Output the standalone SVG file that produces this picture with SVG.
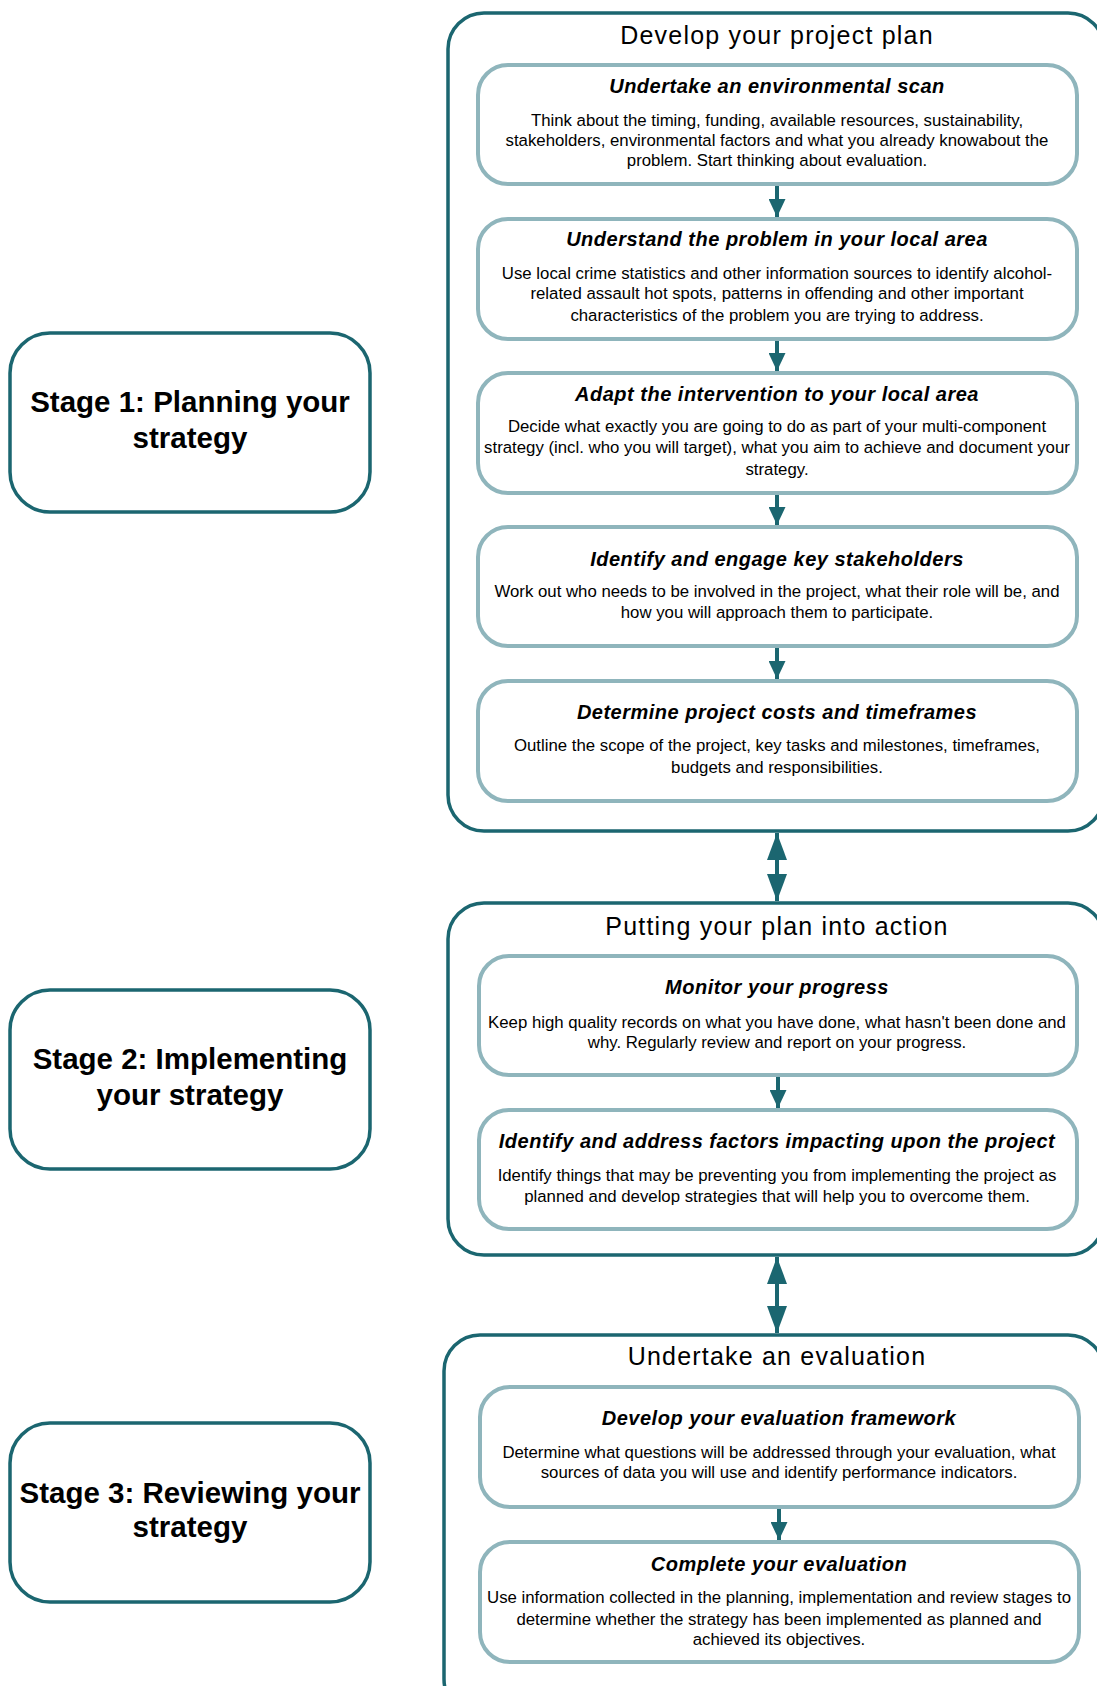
<svg xmlns="http://www.w3.org/2000/svg" width="1097" height="1686" viewBox="0 0 1097 1686">
<style>
.bg{fill:#ffffff}
.stage{fill:#fff;stroke:#1b6670;stroke-width:3.5}
.cont{fill:#fff;stroke:#1b6670;stroke-width:3.5}
.step{fill:#fff;stroke:#8fb5bc;stroke-width:4}
.st{font-family:"Liberation Sans",Arial,sans-serif;font-weight:bold;font-size:29.5px;fill:#000;text-anchor:middle}
.ct{font-family:"Liberation Sans",Arial,sans-serif;font-size:25px;fill:#000;text-anchor:middle;letter-spacing:1.2px}
.tt{font-family:"Liberation Sans",Arial,sans-serif;font-weight:bold;font-style:italic;font-size:20px;fill:#000;text-anchor:middle;letter-spacing:0.5px}
.bt{font-family:"Liberation Sans",Arial,sans-serif;font-size:16.8px;fill:#000;text-anchor:middle}
.ln{stroke:#1b6670;stroke-width:4;fill:none}
</style>
<defs>
<marker id="ah" viewBox="0 0 18 17" refX="18" refY="8.5" markerWidth="18" markerHeight="17" markerUnits="userSpaceOnUse" orient="auto">
<path d="M0,0 L18,8.5 L0,17 z" fill="#1b6670"/>
</marker>
<marker id="ahb" viewBox="0 0 27 20" refX="27" refY="10" markerWidth="27" markerHeight="20" markerUnits="userSpaceOnUse" orient="auto-start-reverse">
<path d="M0,0 L27,10 L0,20 z" fill="#1b6670"/>
</marker>
</defs>
<rect class="bg" x="0" y="0" width="1097" height="1686"/>

<g id="stage1"><rect class="stage" x="10" y="333" width="360" height="179" rx="40"/>
<text class="st" x="190" y="412">Stage 1: Planning your</text>
<text class="st" x="190" y="448">strategy</text></g>
<g id="stage2"><rect class="stage" x="10" y="990" width="360" height="179" rx="40"/>
<text class="st" x="190" y="1069">Stage 2: Implementing</text>
<text class="st" x="190" y="1105">your strategy</text></g>
<g id="stage3"><rect class="stage" x="10" y="1423" width="360" height="179" rx="40"/>
<text class="st" x="190" y="1503">Stage 3: Reviewing your</text>
<text class="st" x="190" y="1537">strategy</text></g>

<g id="plan"><rect class="cont" x="448" y="13" width="656" height="818" rx="36"/>
<text class="ct" x="777" y="44">Develop your project plan</text></g>
<g id="action"><rect class="cont" x="448" y="903" width="656" height="352" rx="36"/>
<text class="ct" x="777" y="935">Putting your plan into action</text></g>
<g id="evaluation"><rect class="cont" x="444" y="1335" width="660" height="380" rx="36"/>
<text class="ct" x="777" y="1365">Undertake an evaluation</text></g>

<g id="scan"><rect class="step" x="478" y="65" width="599" height="119" rx="30"/>
<text class="tt" x="777" y="93">Undertake an environmental scan</text>
<text class="bt" x="777" y="126">Think about the timing, funding, available resources, sustainability,</text>
<text class="bt" x="777" y="146">stakeholders, environmental factors and what you already knowabout the</text>
<text class="bt" x="777" y="166">problem. Start thinking about evaluation.</text></g>

<g id="problem"><rect class="step" x="478" y="219" width="599" height="120" rx="30"/>
<text class="tt" x="777" y="246">Understand the problem in your local area</text>
<text class="bt" x="777" y="279">Use local crime statistics and other information sources to identify alcohol-</text>
<text class="bt" x="777" y="299">related assault hot spots, patterns in offending and other important</text>
<text class="bt" x="777" y="321">characteristics of the problem you are trying to address.</text></g>

<g id="adapt"><rect class="step" x="478" y="373" width="599" height="120" rx="30"/>
<text class="tt" x="777" y="401">Adapt the intervention to your local area</text>
<text class="bt" x="777" y="432">Decide what exactly you are going to do as part of your multi-component</text>
<text class="bt" x="777" y="453">strategy (incl. who you will target), what you aim to achieve and document your</text>
<text class="bt" x="777" y="475">strategy.</text></g>

<g id="stakeholders"><rect class="step" x="478" y="527" width="599" height="119" rx="30"/>
<text class="tt" x="777" y="566">Identify and engage key stakeholders</text>
<text class="bt" x="777" y="597">Work out who needs to be involved in the project, what their role will be, and</text>
<text class="bt" x="777" y="618">how you will approach them to participate.</text></g>

<g id="costs"><rect class="step" x="478" y="681" width="599" height="120" rx="30"/>
<text class="tt" x="777" y="719">Determine project costs and timeframes</text>
<text class="bt" x="777" y="751">Outline the scope of the project, key tasks and milestones, timeframes,</text>
<text class="bt" x="777" y="773">budgets and responsibilities.</text></g>

<g id="monitor"><rect class="step" x="479" y="956" width="598" height="119" rx="30"/>
<text class="tt" x="777" y="994">Monitor your progress</text>
<text class="bt" x="777" y="1028">Keep high quality records on what you have done, what hasn't been done and</text>
<text class="bt" x="777" y="1048">why. Regularly review and report on your progress.</text></g>

<g id="factors"><rect class="step" x="479" y="1110" width="598" height="119" rx="30"/>
<text class="tt" x="777" y="1148">Identify and address factors impacting upon the project</text>
<text class="bt" x="777" y="1181">Identify things that may be preventing you from implementing the project as</text>
<text class="bt" x="777" y="1202">planned and develop strategies that will help you to overcome them.</text></g>

<g id="framework"><rect class="step" x="480" y="1387" width="599" height="120" rx="30"/>
<text class="tt" x="779" y="1425">Develop your evaluation framework</text>
<text class="bt" x="779" y="1458">Determine what questions will be addressed through your evaluation, what</text>
<text class="bt" x="779" y="1478">sources of data you will use and identify performance indicators.</text></g>

<g id="complete"><rect class="step" x="480" y="1542" width="599" height="120" rx="30"/>
<text class="tt" x="779" y="1571">Complete your evaluation</text>
<text class="bt" x="779" y="1603">Use information collected in the planning, implementation and review stages to</text>
<text class="bt" x="779" y="1625">determine whether the strategy has been implemented as planned and</text>
<text class="bt" x="779" y="1645">achieved its objectives.</text></g>

<g id="connectors">
<line class="ln" x1="777" y1="186" x2="777" y2="217" marker-end="url(#ah)"/>
<line class="ln" x1="777" y1="341" x2="777" y2="371" marker-end="url(#ah)"/>
<line class="ln" x1="777" y1="495" x2="777" y2="525" marker-end="url(#ah)"/>
<line class="ln" x1="777" y1="648" x2="777" y2="679" marker-end="url(#ah)"/>
<line class="ln" x1="778" y1="1077" x2="778" y2="1108" marker-end="url(#ah)"/>
<line class="ln" x1="779" y1="1509" x2="779" y2="1540" marker-end="url(#ah)"/>
<line class="ln" x1="777" y1="833" x2="777" y2="901" marker-start="url(#ahb)" marker-end="url(#ahb)"/>
<line class="ln" x1="777" y1="1257" x2="777" y2="1333" marker-start="url(#ahb)" marker-end="url(#ahb)"/>
</g>
</svg>
